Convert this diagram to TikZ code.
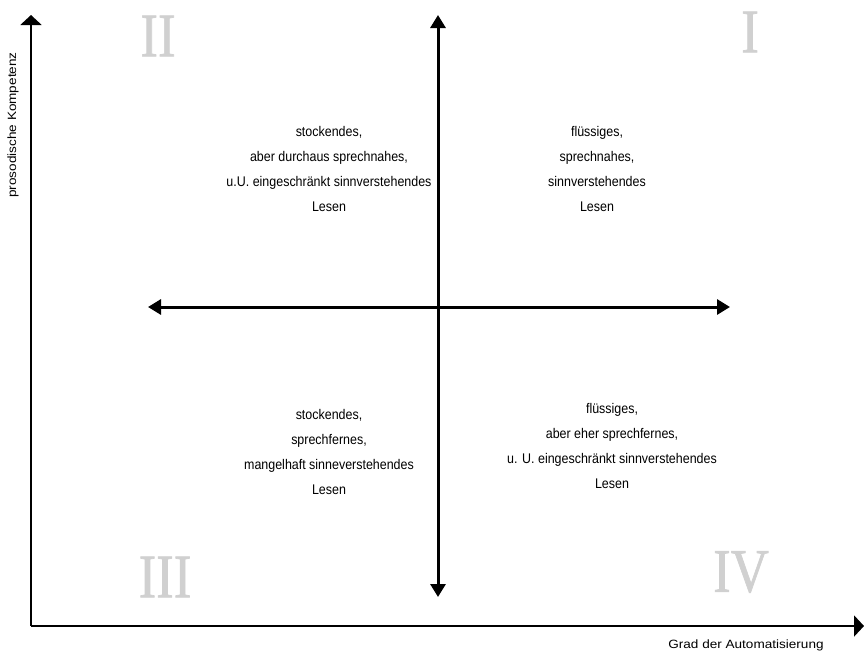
\documentclass[tikz,border=0pt]{standalone}
\usepackage{fontspec}
\setmainfont{Liberation Sans}
\newfontfamily\romanfont[FakeBold=1.2]{Liberation Serif}
\usetikzlibrary{arrows.meta}
\definecolor{numgray}{HTML}{D0D0D0}
\tikzset{
  quadtext/.style={align=center, inner sep=0pt, font=\fontsize{14}{25}\selectfont, xscale=0.89, transform shape},
  axislabel/.style={inner sep=0pt, font=\fontsize{12}{13}\selectfont},
  numeral/.style={inner sep=0pt, text=numgray, font=\romanfont\fontsize{62}{62}\selectfont, xscale=0.85, transform shape},
  mainaxis/.style={line width=2.2pt, -{Triangle[width=21pt,length=10pt]}},
  quadarrow/.style={line width=3pt, {Triangle[width=15pt,length=13pt]}-{Triangle[width=15pt,length=13pt]}}
}
\begin{document}
\begin{tikzpicture}[x=1pt,y=-1pt]
\useasboundingbox (0,0) rectangle (864,653);
% axes
\coordinate (origin) at (31,626);
\coordinate (ytop) at (31,15);
\coordinate (xend) at (864,626);
\draw[mainaxis] (origin) -- (ytop);
\draw[mainaxis] (origin) -- (xend);
% quadrant arrows
\coordinate (vtop) at (438,15);
\coordinate (vbot) at (438,597);
\coordinate (hleft) at (148,307);
\coordinate (hright) at (730,307);
\draw[quadarrow] (vbot) -- (vtop);
\draw[quadarrow] (hleft) -- (hright);
% numerals
\node[numeral] (nII) at (158,36) {II};
\node[numeral] (nI) at (750,32) {I};
\node[numeral] (nIII) at (165,577) {III};
\node[numeral] (nIV) at (741,572) {IV};
% quadrant texts
\node[quadtext] (qII) at (329,169) {stockendes,\\aber durchaus sprechnahes,\\u.U. eingeschränkt sinnverstehendes\\Lesen};
\node[quadtext] (qI) at (597,169) {flüssiges,\\sprechnahes,\\sinnverstehendes\\Lesen};
\node[quadtext] (qIII) at (329,452) {stockendes,\\sprechfernes,\\mangelhaft sinneverstehendes\\Lesen};
\node[quadtext] (qIV) at (612,446) {flüssiges,\\aber eher sprechfernes,\\u. U. eingeschränkt sinnverstehendes\\Lesen};
% axis labels
\node[axislabel, xscale=1.13, transform shape] (xlab) at (746,645) {Grad der Automatisierung};
\node[axislabel, rotate=90, xscale=1.13, transform shape] (ylab) at (13,125) {prosodische Kompetenz};
\end{tikzpicture}
\end{document}
